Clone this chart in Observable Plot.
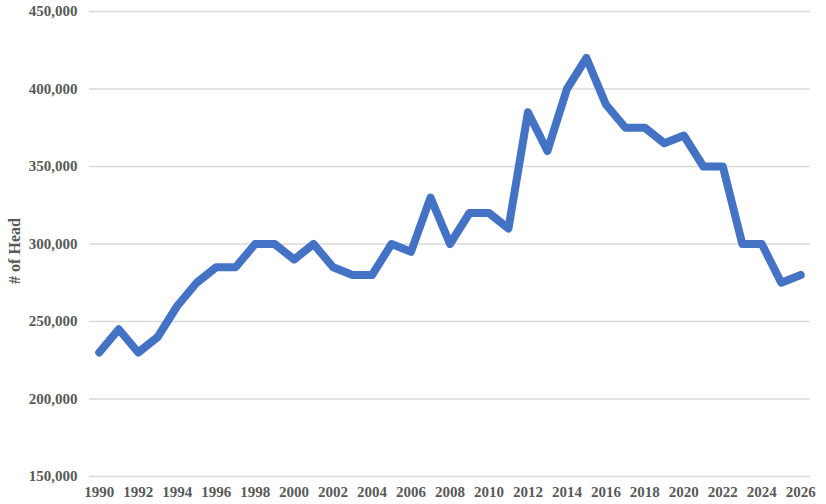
<!DOCTYPE html>
<html>
<head>
<meta charset="utf-8">
<script src="https://cdn.jsdelivr.net/npm/d3@7"></script>
<script src="https://cdn.jsdelivr.net/npm/@observablehq/plot@0.6"></script>
<style>
  html, body { margin: 0; padding: 0; background: #fff; }
</style>
</head>
<body>
<div id="chart"></div>
<script>
const years = [1990,1991,1992,1993,1994,1995,1996,1997,1998,1999,2000,2001,2002,2003,2004,2005,2006,2007,2008,2009,2010,2011,2012,2013,2014,2015,2016,2017,2018,2019,2020,2021,2022,2023,2024,2025,2026];
const head = [230000,245000,230000,240000,260000,275000,285000,285000,300000,300000,290000,300000,285000,280000,280000,300000,295000,330000,300000,320000,320000,310000,385000,360000,400000,420000,390000,375000,375000,365000,370000,350000,350000,300000,300000,275000,280000];
const xTicks = [1990,1992,1994,1996,1998,2000,2002,2004,2006,2008,2010,2012,2014,2016,2018,2020,2022,2024,2026];
const yTicks = [150000,200000,250000,300000,350000,400000,450000];
const yTitle = "# of Head";

const data = years.map((y, i) => ({year: y, value: head[i]}));

const chart = Plot.plot({
  width: 826,
  height: 504,
  marginLeft: 89,
  marginRight: 16,
  marginTop: 11,
  marginBottom: 28,
  style: {
    fontFamily: "'Liberation Serif', 'Times New Roman', serif",
    fontSize: "15px",
    fontWeight: "bold",
    color: "#595959",
    background: "#fff"
  },
  x: {domain: [1989.5, 2026.5]},
  y: {domain: [150000, 450000]},
  marks: [
    Plot.gridY(yTicks, {stroke: "#d9d9d9", strokeOpacity: 1, strokeWidth: 1.3}),
    Plot.axisX(xTicks, {tickSize: 0, tickPadding: 10, tickFormat: d => String(d), label: null}),
    Plot.axisY(yTicks, {tickSize: 0, tickPadding: 12, tickFormat: d3.format(","), label: null}),
    Plot.text([yTitle], {text: d => d, frameAnchor: "left", dx: -75, dy: 7, rotate: -90, fontSize: 16, fontWeight: "bold", fill: "#595959", textAnchor: "middle", lineAnchor: "middle"}),
    Plot.line(data, {x: "year", y: "value", stroke: "#4472C4", strokeWidth: 8, strokeLinejoin: "round", strokeLinecap: "round"})
  ]
});
document.getElementById("chart").appendChild(chart);
</script>
</body>
</html>
